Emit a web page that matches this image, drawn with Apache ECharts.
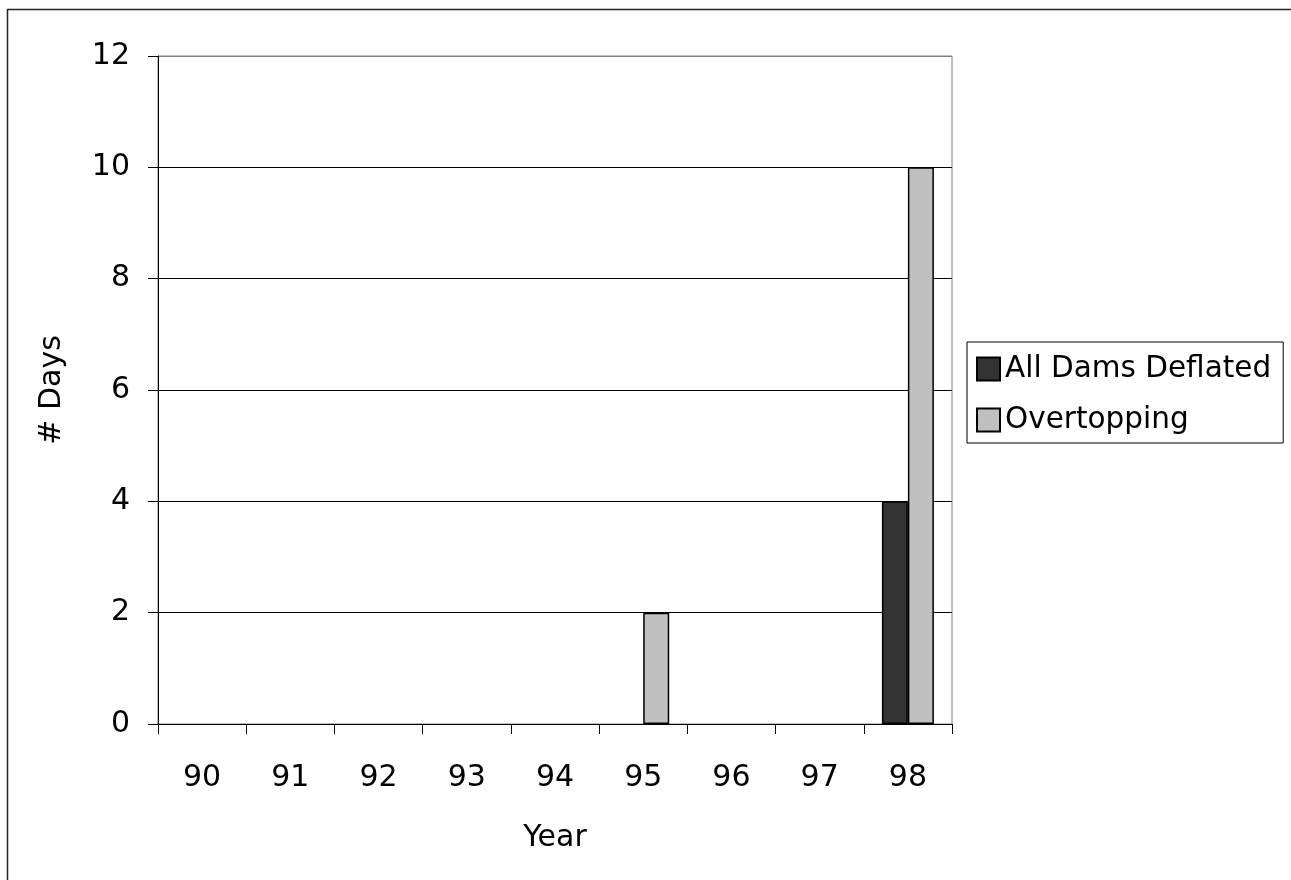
<!DOCTYPE html>
<html>
<head>
<meta charset="utf-8">
<script src="https://cdn.jsdelivr.net/npm/echarts@6/dist/echarts.min.js"></script>
<style>
html,body{margin:0;padding:0;background:#fff;}
#chart{width:1291px;height:880px;}
</style>
</head>
<body>
<div id="chart"></div>
<script>
var categories = ['90','91','92','93','94','95','96','97','98'];
var allDamsDeflated = [0,0,0,0,0,0,0,0,4];
var overtopping = [0,0,0,0,0,2,0,0,10];
var seriesNames = ['All Dams Deflated','Overtopping'];

function toItems(arr){
  return arr.map(function(v){
    return {value:v, itemStyle:{borderWidth: v === 0 ? 0 : 1.5}};
  });
}

var FONT = 'DejaVu Sans';
var chart = echarts.init(document.getElementById('chart'), null, {renderer:'canvas'});
chart.setOption({
  animation:false,
  backgroundColor:'#fff',
  textStyle:{fontFamily:FONT, color:'#000'},
  graphic:[{
    type:'rect', z:-1, silent:true,
    shape:{x:7.5, y:9.5, width:1400, height:1000},
    style:{fill:'none', stroke:'#222', lineWidth:1.5}
  }],
  grid:{left:158, top:56, right:339, bottom:156, show:true, borderColor:'#808080', borderWidth:1, backgroundColor:'transparent', containLabel:false},
  legend:{
    orient:'vertical', left:967, top:342,
    padding:[12,12,8,9],
    itemWidth:23, itemHeight:23, itemGap:21, itemTextGap:10,
    borderColor:'#000', borderWidth:1, backgroundColor:'#fff',
    icon:'rect',
    textStyle:{fontFamily:FONT, fontSize:29.5, color:'#000'},
    data:seriesNames
  },
  xAxis:{
    type:'category', data:categories,
    name:'Year', nameLocation:'middle', nameGap:99,
    nameTextStyle:{fontFamily:FONT, fontSize:30, color:'#000'},
    axisLine:{lineStyle:{color:'#000', width:1}},
    axisTick:{show:true, length:10, lineStyle:{color:'#000'}},
    axisLabel:{fontFamily:FONT, fontSize:30, color:'#000', margin:39},
    splitLine:{show:false}
  },
  yAxis:{
    type:'value', min:0, max:12, interval:2,
    name:'# Days', nameLocation:'middle', nameGap:91,
    nameTextStyle:{fontFamily:FONT, fontSize:30, color:'#000'},
    axisLine:{show:true, lineStyle:{color:'#000', width:1}},
    axisTick:{show:true, length:10, lineStyle:{color:'#000'}},
    axisLabel:{fontFamily:FONT, fontSize:30, color:'#000', margin:28},
    splitLine:{show:true, lineStyle:{color:['#000','#000','#000','#000','#000','#000','#808080'], width:1}}
  },
  series:[
    {name:seriesNames[0], type:'bar', data:toItems(allDamsDeflated), barWidth:26, barGap:'0%',
     itemStyle:{color:'#333333', borderColor:'#000', borderWidth:1.5}},
    {name:seriesNames[1], type:'bar', data:toItems(overtopping), barWidth:26, barGap:'0%',
     itemStyle:{color:'#c0c0c0', borderColor:'#000', borderWidth:1.5}}
  ]
});
</script>
</body>
</html>
